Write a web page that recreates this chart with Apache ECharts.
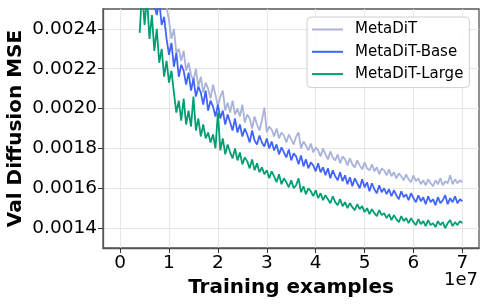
<!DOCTYPE html>
<html>
<head>
<meta charset="utf-8">
<script src="https://cdn.jsdelivr.net/npm/echarts@6/dist/echarts.min.js"></script>
<style>
html,body{margin:0;padding:0;background:#fff;}
#chart{width:488px;height:305px;}
</style>
</head>
<body>
<div id="chart"></div>
<script>
// Training examples, in units of 1e7 (as shown on the axis)
const trainingExamples = [
0.40,0.45,0.50,0.55,0.60,0.65,0.70,0.75,0.80,0.85,
0.90,0.95,1.00,1.05,1.10,1.15,1.20,1.25,1.30,1.35,
1.40,1.45,1.50,1.55,1.60,1.65,1.70,1.75,1.80,1.85,
1.90,1.95,2.00,2.05,2.10,2.15,2.20,2.25,2.30,2.35,
2.40,2.45,2.50,2.55,2.60,2.65,2.70,2.75,2.80,2.85,
2.90,2.95,3.00,3.05,3.10,3.15,3.20,3.25,3.30,3.35,
3.40,3.45,3.50,3.55,3.60,3.65,3.70,3.75,3.80,3.85,
3.90,3.95,4.00,4.05,4.10,4.15,4.20,4.25,4.30,4.35,
4.40,4.45,4.50,4.55,4.60,4.65,4.70,4.75,4.80,4.85,
4.90,4.95,5.00,5.05,5.10,5.15,5.20,5.25,5.30,5.35,
5.40,5.45,5.50,5.55,5.60,5.65,5.70,5.75,5.80,5.85,
5.90,5.95,6.00,6.05,6.10,6.15,6.20,6.25,6.30,6.35,
6.40,6.45,6.50,6.55,6.60,6.65,6.70,6.75,6.80,6.85,
6.90,6.95,7.00];

// Val diffusion MSE values, in units of 1e-6
const metaDiT_e6 = [
2900,2850,2880,2800,2780,2750,2700,2680,2650,2600,
2580,2510,2440,2350,2400,2280,2300,2240,2290,2190,
2230,2170,2140,2200,2110,2160,2080,2130,2100,2050,
2120,2070,2010,2060,2090,1990,2030,1980,2040,1970,
2000,1960,2020,1930,1970,1950,1900,1960,1920,1890,
1940,2005,1880,1910,1895,1860,1900,1850,1880,1865,
1830,1870,1845,1820,1860,1880,1800,1835,1815,1790,
1825,1780,1805,1790,1760,1800,1770,1745,1785,1755,
1740,1770,1725,1760,1745,1715,1750,1720,1705,1740,
1715,1695,1730,1700,1690,1720,1685,1705,1670,1700,
1690,1665,1695,1660,1680,1650,1675,1660,1640,1670,
1645,1630,1665,1635,1650,1620,1640,1615,1645,1625,
1610,1640,1620,1650,1615,1635,1625,1665,1620,1645,
1625,1640,1630];

const metaDiTBase_e6 = [
2800,2750,2780,2700,2650,2600,2520,2470,2540,2420,
2460,2350,2270,2330,2210,2280,2160,2220,2190,2120,
2180,2090,2150,2060,2110,2080,2020,2090,1990,2040,
2010,1960,2020,1950,1990,1920,1970,1930,1890,1950,
1880,1920,1860,1900,1870,1830,1890,1840,1820,1865,
1830,1810,1850,1800,1835,1790,1820,1770,1805,1780,
1755,1795,1740,1775,1760,1720,1765,1710,1745,1700,
1730,1715,1685,1725,1680,1705,1665,1700,1650,1690,
1660,1640,1680,1635,1665,1620,1655,1610,1650,1625,
1600,1645,1605,1630,1585,1625,1595,1575,1615,1580,
1600,1570,1595,1560,1590,1565,1545,1585,1555,1570,
1540,1575,1550,1530,1565,1535,1555,1520,1560,1530,
1545,1515,1555,1525,1540,1565,1520,1550,1530,1560,
1525,1545,1535];

const metaDiTLarge_e6 = [
2380,2600,2420,2560,2350,2470,2290,2400,2230,2300,
2160,2240,2130,2190,2080,1980,2040,1940,2050,1920,
1990,1910,2060,1890,1950,1860,1920,1850,1880,1830,
1870,1800,1980,1790,1850,1770,1820,1780,1750,1800,
1740,1780,1720,1755,1735,1700,1745,1690,1725,1680,
1705,1670,1690,1650,1685,1660,1630,1670,1620,1650,
1630,1605,1640,1600,1615,1650,1580,1610,1570,1600,
1585,1560,1590,1550,1575,1540,1565,1545,1525,1560,
1530,1515,1545,1510,1530,1500,1525,1505,1490,1520,
1495,1510,1480,1500,1470,1495,1475,1460,1490,1465,
1475,1450,1470,1440,1465,1445,1430,1460,1435,1450,
1425,1450,1430,1415,1445,1420,1435,1410,1440,1415,
1425,1405,1435,1415,1430,1400,1425,1440,1410,1430,
1415,1435,1425];

const seriesNames = ['MetaDiT', 'MetaDiT-Base', 'MetaDiT-Large'];
const xTickValues = [0, 1, 2, 3, 4, 5, 6, 7];
const yTickValues = [0.0014, 0.0016, 0.0018, 0.0020, 0.0022, 0.0024];

const toPairs = arr => arr.map((v, i) => [trainingExamples[i], v / 1e6]);
const colors = ['#aab3d9', '#4165fa', '#009e73'];
const FONT = 'DejaVu Sans';

const chart = echarts.init(document.getElementById('chart'), null, {renderer: 'canvas'});
chart.setOption({
  animation: false,
  backgroundColor: '#ffffff',
  grid: {left: 103, right: 9, top: 9, bottom: 57, containLabel: false, outerBoundsMode: 'none',
         show: true, borderColor: '#555', borderWidth: 1.3, backgroundColor: 'transparent'},
  xAxis: {
    type: 'value', min: -0.35, max: 7.34,
    name: 'Training examples', nameLocation: 'middle', nameGap: 27,
    nameTextStyle: {fontFamily: FONT, fontSize: 20, fontWeight: 'bold', color: '#000'},
    axisLine: {show: true, onZero: false, lineStyle: {color: '#555', width: 1.3}},
    axisTick: {show: true, length: 5, lineStyle: {color: '#333', width: 1}, customValues: xTickValues},
    axisLabel: {customValues: xTickValues, margin: 6, fontFamily: FONT, fontSize: 18.5, color: '#000', formatter: v => String(Math.round(v))},
    splitLine: {show: true, lineStyle: {color: '#e6e6e6', width: 1}}
  },
  yAxis: {
    type: 'value', min: 0.0013, max: 0.0025,
    name: 'Val Diffusion MSE', nameLocation: 'middle', nameGap: 77, nameRotate: 90,
    nameMoveOverlap: false,
    nameTextStyle: {fontFamily: FONT, fontSize: 20, fontWeight: 'bold', color: '#000'},
    axisLine: {show: true, onZero: false, lineStyle: {color: '#555', width: 1.3}},
    axisTick: {show: true, length: 5, lineStyle: {color: '#333', width: 1}, customValues: yTickValues},
    axisLabel: {customValues: yTickValues, margin: 6, fontFamily: FONT, fontSize: 18.5, color: '#000', formatter: v => v.toFixed(4)},
    splitLine: {show: true, lineStyle: {color: '#e6e6e6', width: 1}}
  },
  legend: {
    orient: 'vertical', left: 307, top: 17,
    padding: [5, 6, 6, 5],
    icon: 'rect',
    itemWidth: 31, itemHeight: 2, itemGap: 7.3,
    backgroundColor: 'rgba(255,255,255,0.85)', borderColor: '#d0d0d0', borderWidth: 1, borderRadius: 4,
    textStyle: {fontFamily: FONT, fontSize: 15, color: '#000', padding: [0, 0, 0, 7], lineHeight: 15},
    data: seriesNames
  },
  graphic: [{
    type: 'text', right: 10, top: 271,
    style: {text: '1e7', fontFamily: FONT, fontSize: 18, fill: '#000'}
  }],
  series: [metaDiT_e6, metaDiTBase_e6, metaDiTLarge_e6].map((arr, k) => ({
    name: seriesNames[k],
    type: 'line',
    data: toPairs(arr),
    symbol: 'none',
    clip: true,
    lineStyle: {color: colors[k], width: 1.8},
    itemStyle: {color: colors[k]}
  }))
});
</script>
</body>
</html>
